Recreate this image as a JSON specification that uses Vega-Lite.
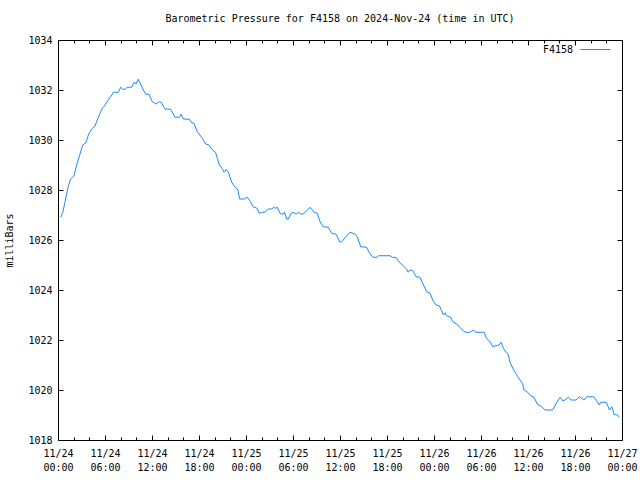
{
  "$schema": "https://vega.github.io/schema/vega-lite/v6.json",
  "width": 564,
  "height": 400,
  "autosize": "none",
  "padding": {"left": 58, "top": 40, "right": 18, "bottom": 40},
  "background": "white",
  "config": {
    "view": {"stroke": "black", "strokeWidth": 1},
    "font": "DejaVu Sans Mono",
    "axis": {"domain": false, "grid": false, "tickColor": "black", "tickOpacity": 1, "labelColor": "black", "labelFont": "DejaVu Sans Mono", "labelFontSize": 10, "titleFont": "DejaVu Sans Mono", "titleFontSize": 10, "titleFontWeight": "normal", "titleColor": "black"}
  },
  "title": {"text": "Barometric Pressure for F4158 on 2024-Nov-24 (time in UTC)", "font": "DejaVu Sans Mono", "fontSize": 10, "fontWeight": "normal", "color": "black", "anchor": "middle", "offset": 10},
  "data": {"values": [
    {"hour": 0.34, "mbar": 1026.91}, {"hour": 0.6, "mbar": 1027.09}, {"hour": 0.9, "mbar": 1027.53}, {"hour": 1.3, "mbar": 1028.13},
    {"hour": 1.6, "mbar": 1028.44}, {"hour": 2.04, "mbar": 1028.57}, {"hour": 2.38, "mbar": 1029.0}, {"hour": 2.8, "mbar": 1029.43},
    {"hour": 3.15, "mbar": 1029.8}, {"hour": 3.57, "mbar": 1029.89}, {"hour": 3.87, "mbar": 1030.2}, {"hour": 4.3, "mbar": 1030.44},
    {"hour": 4.72, "mbar": 1030.56}, {"hour": 5.15, "mbar": 1030.91}, {"hour": 5.58, "mbar": 1031.23}, {"hour": 6.0, "mbar": 1031.4},
    {"hour": 6.43, "mbar": 1031.6}, {"hour": 6.73, "mbar": 1031.73}, {"hour": 7.06, "mbar": 1031.91}, {"hour": 7.7, "mbar": 1031.91},
    {"hour": 8.0, "mbar": 1032.11}, {"hour": 8.26, "mbar": 1032.03}, {"hour": 8.55, "mbar": 1032.03}, {"hour": 8.85, "mbar": 1032.11},
    {"hour": 9.4, "mbar": 1032.11}, {"hour": 9.7, "mbar": 1032.31}, {"hour": 9.96, "mbar": 1032.24}, {"hour": 10.25, "mbar": 1032.43},
    {"hour": 10.55, "mbar": 1032.24}, {"hour": 10.9, "mbar": 1032.0}, {"hour": 11.2, "mbar": 1031.83}, {"hour": 11.6, "mbar": 1031.83},
    {"hour": 12.04, "mbar": 1031.53}, {"hour": 12.5, "mbar": 1031.44}, {"hour": 12.9, "mbar": 1031.53}, {"hour": 13.2, "mbar": 1031.5},
    {"hour": 13.66, "mbar": 1031.24}, {"hour": 14.38, "mbar": 1031.23}, {"hour": 14.94, "mbar": 1030.91}, {"hour": 15.5, "mbar": 1030.91},
    {"hour": 15.7, "mbar": 1031.03}, {"hour": 16.0, "mbar": 1030.84}, {"hour": 16.77, "mbar": 1030.83}, {"hour": 17.06, "mbar": 1030.69},
    {"hour": 17.36, "mbar": 1030.67}, {"hour": 17.79, "mbar": 1030.33}, {"hour": 18.34, "mbar": 1030.11}, {"hour": 18.86, "mbar": 1029.84},
    {"hour": 19.28, "mbar": 1029.8}, {"hour": 19.6, "mbar": 1029.64}, {"hour": 20.1, "mbar": 1029.51}, {"hour": 20.34, "mbar": 1029.27},
    {"hour": 20.6, "mbar": 1029.0}, {"hour": 21.0, "mbar": 1028.83}, {"hour": 21.2, "mbar": 1028.71}, {"hour": 21.5, "mbar": 1028.83},
    {"hour": 21.8, "mbar": 1028.67}, {"hour": 22.17, "mbar": 1028.31}, {"hour": 22.6, "mbar": 1028.11}, {"hour": 22.94, "mbar": 1028.04},
    {"hour": 23.2, "mbar": 1027.64}, {"hour": 23.8, "mbar": 1027.64}, {"hour": 24.17, "mbar": 1027.71}, {"hour": 24.5, "mbar": 1027.57},
    {"hour": 24.9, "mbar": 1027.33}, {"hour": 25.4, "mbar": 1027.27}, {"hour": 25.7, "mbar": 1027.07}, {"hour": 26.0, "mbar": 1027.11},
    {"hour": 26.4, "mbar": 1027.11}, {"hour": 26.85, "mbar": 1027.24}, {"hour": 27.3, "mbar": 1027.24}, {"hour": 27.5, "mbar": 1027.31},
    {"hour": 27.8, "mbar": 1027.27}, {"hour": 28.0, "mbar": 1027.31}, {"hour": 28.4, "mbar": 1027.04}, {"hour": 28.76, "mbar": 1027.04},
    {"hour": 28.9, "mbar": 1027.11}, {"hour": 29.2, "mbar": 1026.84}, {"hour": 29.4, "mbar": 1026.84}, {"hour": 29.7, "mbar": 1027.04},
    {"hour": 30.0, "mbar": 1027.11}, {"hour": 30.4, "mbar": 1027.04}, {"hour": 30.7, "mbar": 1027.11}, {"hour": 31.0, "mbar": 1027.04},
    {"hour": 31.3, "mbar": 1027.04}, {"hour": 31.75, "mbar": 1027.17}, {"hour": 32.17, "mbar": 1027.31}, {"hour": 32.7, "mbar": 1027.11},
    {"hour": 33.1, "mbar": 1027.07}, {"hour": 33.45, "mbar": 1026.73}, {"hour": 33.87, "mbar": 1026.53}, {"hour": 34.5, "mbar": 1026.51},
    {"hour": 34.94, "mbar": 1026.27}, {"hour": 35.5, "mbar": 1026.23}, {"hour": 36.0, "mbar": 1025.91}, {"hour": 36.2, "mbar": 1025.93},
    {"hour": 36.77, "mbar": 1026.13}, {"hour": 37.28, "mbar": 1026.31}, {"hour": 37.9, "mbar": 1026.24}, {"hour": 38.2, "mbar": 1026.13},
    {"hour": 38.65, "mbar": 1025.73}, {"hour": 39.4, "mbar": 1025.71}, {"hour": 39.75, "mbar": 1025.49}, {"hour": 40.2, "mbar": 1025.31},
    {"hour": 40.7, "mbar": 1025.31}, {"hour": 40.9, "mbar": 1025.37}, {"hour": 42.4, "mbar": 1025.37}, {"hour": 42.7, "mbar": 1025.31},
    {"hour": 43.2, "mbar": 1025.29}, {"hour": 43.57, "mbar": 1025.11}, {"hour": 44.1, "mbar": 1024.96}, {"hour": 44.5, "mbar": 1024.84},
    {"hour": 44.7, "mbar": 1024.71}, {"hour": 44.94, "mbar": 1024.8}, {"hour": 45.3, "mbar": 1024.77}, {"hour": 45.7, "mbar": 1024.53},
    {"hour": 46.2, "mbar": 1024.51}, {"hour": 46.56, "mbar": 1024.27}, {"hour": 47.07, "mbar": 1023.93}, {"hour": 47.5, "mbar": 1023.87},
    {"hour": 47.83, "mbar": 1023.6}, {"hour": 48.26, "mbar": 1023.4}, {"hour": 48.68, "mbar": 1023.37}, {"hour": 48.98, "mbar": 1023.17},
    {"hour": 49.19, "mbar": 1023.0}, {"hour": 49.4, "mbar": 1023.09}, {"hour": 49.6, "mbar": 1022.97}, {"hour": 50.13, "mbar": 1022.91},
    {"hour": 50.4, "mbar": 1022.73}, {"hour": 50.9, "mbar": 1022.64}, {"hour": 51.3, "mbar": 1022.51}, {"hour": 51.74, "mbar": 1022.36},
    {"hour": 52.08, "mbar": 1022.31}, {"hour": 52.6, "mbar": 1022.31}, {"hour": 53.0, "mbar": 1022.4}, {"hour": 53.36, "mbar": 1022.31},
    {"hour": 54.4, "mbar": 1022.31}, {"hour": 54.7, "mbar": 1022.07}, {"hour": 55.15, "mbar": 1021.93}, {"hour": 55.5, "mbar": 1021.73},
    {"hour": 55.9, "mbar": 1021.77}, {"hour": 56.3, "mbar": 1021.8}, {"hour": 56.56, "mbar": 1021.91}, {"hour": 56.85, "mbar": 1021.67},
    {"hour": 57.2, "mbar": 1021.51}, {"hour": 57.5, "mbar": 1021.4}, {"hour": 57.7, "mbar": 1021.11}, {"hour": 58.13, "mbar": 1020.83},
    {"hour": 58.56, "mbar": 1020.6}, {"hour": 58.98, "mbar": 1020.4}, {"hour": 59.3, "mbar": 1020.27}, {"hour": 59.5, "mbar": 1020.0},
    {"hour": 59.9, "mbar": 1019.93}, {"hour": 60.35, "mbar": 1019.77}, {"hour": 60.77, "mbar": 1019.71}, {"hour": 61.2, "mbar": 1019.43},
    {"hour": 61.75, "mbar": 1019.33}, {"hour": 62.17, "mbar": 1019.2}, {"hour": 63.15, "mbar": 1019.2}, {"hour": 63.6, "mbar": 1019.47},
    {"hour": 64.1, "mbar": 1019.71}, {"hour": 64.43, "mbar": 1019.57}, {"hour": 64.72, "mbar": 1019.6}, {"hour": 65.15, "mbar": 1019.71},
    {"hour": 65.45, "mbar": 1019.6}, {"hour": 66.13, "mbar": 1019.6}, {"hour": 66.55, "mbar": 1019.73}, {"hour": 66.85, "mbar": 1019.67},
    {"hour": 67.15, "mbar": 1019.6}, {"hour": 67.5, "mbar": 1019.73}, {"hour": 68.4, "mbar": 1019.73}, {"hour": 68.76, "mbar": 1019.57},
    {"hour": 69.1, "mbar": 1019.4}, {"hour": 69.3, "mbar": 1019.51}, {"hour": 70.0, "mbar": 1019.51}, {"hour": 70.4, "mbar": 1019.2},
    {"hour": 70.7, "mbar": 1019.33}, {"hour": 71.0, "mbar": 1019.03}, {"hour": 71.4, "mbar": 1019.0}, {"hour": 71.66, "mbar": 1018.91}
  ]},
  "layer": [
    {
      "mark": {"type": "line", "strokeWidth": 1, "interpolate": "linear"},
      "encoding": {
        "x": {"field": "hour", "type": "quantitative", "scale": {"domain": [0, 72], "nice": false, "zero": false},
          "axis": {"orient": "bottom", "title": null, "values": [0, 6, 12, 18, 24, 30, 36, 42, 48, 54, 60, 66, 72], "tickSize": -5, "labelPadding": 13, "labelBaseline": "top", "labelLineHeight": 14, "labelAngle": 0, "labelFlush": false, "labelOverlap": false,
            "labelExpr": "['11/' + (24 + floor(datum.value / 24)), (datum.value % 24 < 10 ? '0' : '') + (datum.value % 24) + ':00']"}},
        "y": {"field": "mbar", "type": "quantitative", "scale": {"domain": [1018, 1034], "nice": false, "zero": false},
          "axis": {"orient": "left", "title": "milliBars", "format": "d", "values": [1018, 1020, 1022, 1024, 1026, 1028, 1030, 1032, 1034], "tickSize": -5, "labelPadding": 11, "titlePadding": 13, "labelFlush": false, "labelOverlap": false}},
        "color": {"datum": "F4158", "type": "nominal", "scale": {"range": ["#1a88ff"]},
          "legend": {"title": null, "orient": "none", "legendX": 522, "legendY": -6, "symbolType": "stroke", "symbolSize": 900, "symbolStrokeWidth": 1, "labelAlign": "right", "labelOffset": -38, "labelFont": "DejaVu Sans Mono", "labelFontSize": 10, "labelColor": "black", "padding": 0}}
      }
    },
    {
      "mark": {"type": "line", "opacity": 0},
      "encoding": {
        "x": {"field": "hour", "type": "quantitative", "axis": {"orient": "top", "title": null, "labels": false, "values": [0, 6, 12, 18, 24, 30, 36, 42, 48, 54, 60, 66, 72], "tickSize": -5}},
        "y": {"field": "mbar", "type": "quantitative", "axis": {"orient": "right", "title": null, "labels": false, "values": [1018, 1020, 1022, 1024, 1026, 1028, 1030, 1032, 1034], "tickSize": -5}}
      }
    },
    {
      "mark": {"type": "line", "opacity": 0},
      "encoding": {
        "x": {"field": "hour", "type": "quantitative", "axis": {"orient": "bottom", "title": null, "labels": false, "values": [2, 4, 8, 10, 14, 16, 20, 22, 26, 28, 32, 34, 38, 40, 44, 46, 50, 52, 56, 58, 62, 64, 68, 70], "tickSize": -3}},
        "y": {"field": "mbar", "type": "quantitative", "axis": null}
      }
    },
    {
      "mark": {"type": "line", "opacity": 0},
      "encoding": {
        "x": {"field": "hour", "type": "quantitative", "axis": {"orient": "top", "title": null, "labels": false, "values": [2, 4, 8, 10, 14, 16, 20, 22, 26, 28, 32, 34, 38, 40, 44, 46, 50, 52, 56, 58, 62, 64, 68, 70], "tickSize": -3}},
        "y": {"field": "mbar", "type": "quantitative", "axis": null}
      }
    }
  ],
  "resolve": {"axis": {"x": "independent", "y": "independent"}}
}
